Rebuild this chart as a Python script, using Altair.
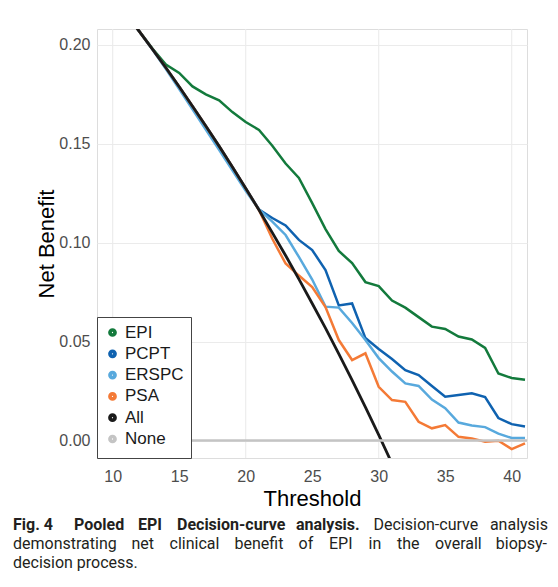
import altair as alt
import pandas as pd

# ---------------- data ----------------
series_names = ["EPI", "PCPT", "ERSPC", "PSA", "All", "None"]
series_colors = ["#137a3c", "#0f62b0", "#58a9dd", "#f47a36", "#1a1a1a", "#c4c4c4"]

model_thresholds = list(range(11, 42))
epi = [0.2157, 0.2068, 0.1980, 0.1900, 0.1858, 0.1790, 0.1750, 0.1720, 0.1660, 0.1610,
       0.1570, 0.1490, 0.1400, 0.1327, 0.1200, 0.1069, 0.0958, 0.0897, 0.0801, 0.0781,
       0.0708, 0.0672, 0.0624, 0.0576, 0.0564, 0.0526, 0.0511, 0.0468, 0.0339, 0.0316,
       0.0308]
pcpt = [0.2157, 0.2068, 0.1977, 0.1884, 0.1788, 0.1690, 0.1590, 0.1488, 0.1383, 0.1275,
        0.1168, 0.1125, 0.1087, 0.1014, 0.0963, 0.0862, 0.0683, 0.0693, 0.0518, 0.0463,
        0.0412, 0.0356, 0.0331, 0.0276, 0.0222, 0.0230, 0.0239, 0.0220, 0.0114, 0.0083,
        0.0071]
erspc = [0.2157, 0.2068, 0.1975, 0.1878, 0.1776, 0.1674, 0.1572, 0.1470, 0.1366, 0.1262,
         0.1168, 0.1107, 0.1039, 0.0928, 0.0814, 0.0677, 0.0672, 0.0594, 0.0508, 0.0417,
         0.0349, 0.0289, 0.0276, 0.0207, 0.0164, 0.0091, 0.0076, 0.0068, 0.0035, 0.0013,
         0.0013]
psa = [0.2157, 0.2068, 0.1977, 0.1884, 0.1788, 0.1690, 0.1590, 0.1488, 0.1383, 0.1275,
       0.1165, 0.1020, 0.0895, 0.0834, 0.0776, 0.0675, 0.0508, 0.0407, 0.0441, 0.0272,
       0.0205, 0.0196, 0.0095, 0.0062, 0.0078, 0.0019, 0.0011, -0.0006, -0.0001, -0.0043,
       -0.0014]

all_thresholds = list(range(11, 32))
all_vals = [0.2157, 0.2068, 0.1977, 0.1884, 0.1788, 0.1690, 0.1590, 0.1488, 0.1383, 0.1275,
            0.1165, 0.1051, 0.0935, 0.0816, 0.0693, 0.0568, 0.0438, 0.0306, 0.0169, 0.0029,
            -0.0116]

none_thresholds = [8, 42]
none_vals = [0.0, 0.0]

x_tick_values = [10, 15, 20, 25, 30, 35, 40]
x_grid_values = [10, 20, 30, 40]
y_tick_values = [0.0, 0.05, 0.10, 0.15, 0.20]

caption_line_1_bold = ["Fig. 4", "Pooled", "EPI", "Decision-curve", "analysis."]
caption_line_1_rest = ["Decision-curve", "analysis"]
caption_line_2 = ["demonstrating", "net", "clinical", "benefit", "of", "EPI", "in",
                  "the", "overall", "biopsy-"]
caption_line_3 = "decision process."

# ---------------- tables ----------------
rows = []
for name, vals in zip(["EPI", "PCPT", "ERSPC", "PSA"], [epi, pcpt, erspc, psa]):
    for t, v in zip(model_thresholds, vals):
        rows.append({"series": name, "threshold": t, "net_benefit": v})
models_df = pd.DataFrame(rows)
all_df = pd.DataFrame({"series": "All", "threshold": all_thresholds, "net_benefit": all_vals})
none_df = pd.DataFrame({"series": "None", "threshold": none_thresholds, "net_benefit": none_vals})
grid_df = pd.DataFrame({"threshold": x_grid_values})

W, H = 430, 429
x_scale = alt.Scale(domain=[8.82, 41.15], nice=False, zero=False)
y_scale = alt.Scale(domain=[-0.0088, 0.208], nice=False, zero=False)
color_scale = alt.Scale(domain=series_names, range=series_colors)

x_axis = alt.Axis(values=x_tick_values, title="Threshold", grid=False,
                  labelPadding=10, titlePadding=4)
x_enc = alt.X("threshold:Q", scale=x_scale, axis=x_axis)
y_enc = alt.Y("net_benefit:Q", scale=y_scale,
              axis=alt.Axis(values=y_tick_values, format=".2f", title="Net Benefit",
                            grid=True, labelPadding=7, titlePadding=0))
color_enc = alt.Color("series:N", scale=color_scale,
                      legend=alt.Legend(title=None, orient="bottom-left", offset=0,
                                        padding=7, strokeColor="#444444", fillColor="white",
                                        rowPadding=-3.7, labelOffset=4, symbolType="circle",
                                        symbolSize=14, symbolStrokeWidth=5,
                                        labelFontSize=17, labelColor="#1a1a1a",
                                        labelExpr="datum.label + ' '"))

grid = alt.Chart(grid_df).mark_rule(color="#ebebeb", strokeWidth=1.1).encode(x=x_enc)

models = alt.Chart(models_df).mark_line(strokeWidth=2.5, clip=True).encode(
    x=x_enc, y=y_enc, color=color_enc)
all_line = alt.Chart(all_df).mark_line(strokeWidth=2.8, clip=True).encode(
    x=x_enc, y=y_enc, color=color_enc)
none_line = alt.Chart(none_df).mark_line(strokeWidth=2.5, clip=True).encode(
    x=x_enc, y=y_enc, color=color_enc)

one = pd.DataFrame({"k": [0]})
CAP_FONT = "Roboto"
CAP_SIZE = 16
CAP_COLOR = "#231f20"
OX, OY = 97, 29  # plot origin on the page


def cap(text, px, py, bold=False, align="left"):
    return alt.Chart(one).mark_text(
        text=text, font=CAP_FONT, fontSize=CAP_SIZE, color=CAP_COLOR,
        fontWeight="bold" if bold else "normal", align=align, baseline="alphabetic"
    ).encode(x=alt.value(px - OX), y=alt.value(py - OY))


Y1, Y2, Y3 = 530.2, 549.0, 567.8
line1_bold_x = [13, 74, 138, 177, 296]
line2_x = [13, 131.5, 169.5, 234.5, 298.5, 329, 368.5, 397, 435]

captions = []
for word, px in zip(caption_line_1_bold, line1_bold_x):
    captions.append(cap(word, px, Y1, bold=True))
captions.append(cap(caption_line_1_rest[0], 373.5, Y1))
captions.append(cap(caption_line_1_rest[1], 548, Y1, align="right"))
for word, px in zip(caption_line_2[:-1], line2_x):
    captions.append(cap(word, px, Y2))
captions.append(cap(caption_line_2[-1], 547, Y2, align="right"))
captions.append(cap(caption_line_3, 13, Y3))

chart = alt.layer(grid, models, all_line, none_line, *captions).properties(
    width=W, height=H,
    autosize=alt.AutoSizeParams(type="none"),
    padding={"left": 89, "top": 21, "right": 22, "bottom": 114},
).configure_view(
    stroke="#555555", strokeWidth=1.2
).configure(
    font="Liberation Sans"
).configure_axis(
    domain=False, ticks=False, labelColor="#4d4d4d", labelFontSize=16,
    titleFontSize=22, titleFontWeight="normal", titleColor="#000000",
    gridColor="#ebebeb", gridWidth=1.1, labelFont="Liberation Sans", titleFont="Liberation Sans"
).configure_legend(
    labelFont="Liberation Sans", cornerRadius=0
)

chart.save("out.html", embed_options={"renderer": "svg", "actions": False})
